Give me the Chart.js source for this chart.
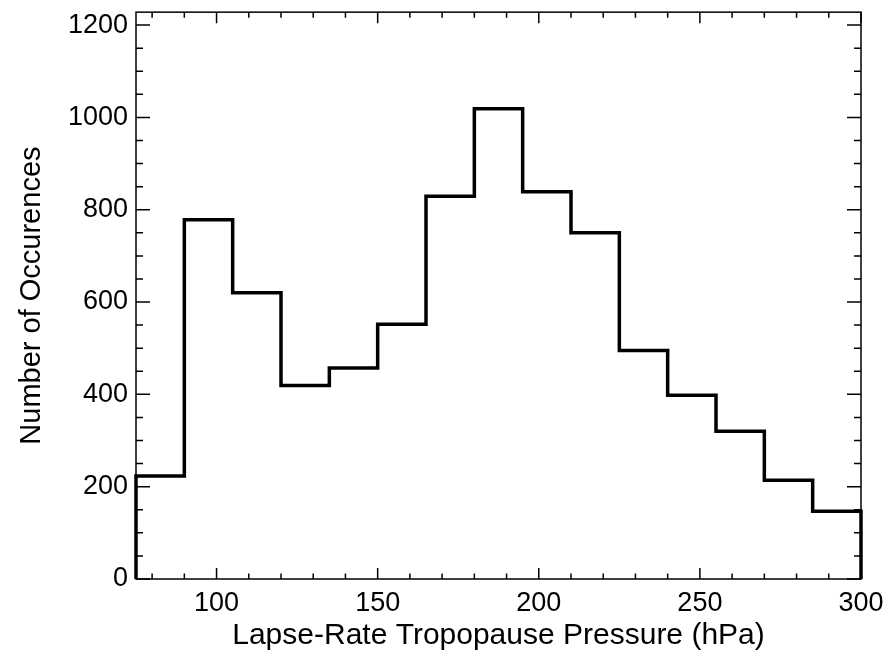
<!DOCTYPE html>
<html>
<head>
<meta charset="utf-8">
<script src="https://cdn.jsdelivr.net/npm/chart.js@4/dist/chart.umd.min.js"></script>
<style>
  html, body { margin: 0; padding: 0; background: #fff; }
  #wrap { width: 889px; height: 660px; }
</style>
</head>
<body>
<div id="wrap"><canvas id="chart" width="889" height="660"></canvas></div>
<script>
// histogram bins (hPa) and counts
const binEdges = [75, 90, 105, 120, 135, 150, 165, 180, 195, 210, 225, 240, 255, 270, 285, 300];
const counts = [223, 778, 620, 419, 457, 552, 829, 1019, 839, 750, 495, 398, 320, 214, 147];

const xTickValues = [100, 150, 200, 250, 300];
const yTickValues = [0, 200, 400, 600, 800, 1000, 1200];
const xMinorStep = 10;
const yMinorStep = 50;

const xTitle = 'Lapse-Rate Tropopause Pressure (hPa)';
const yTitle = 'Number of Occurences';

const fontFamily = '"Liberation Sans", Arial, Helvetica, sans-serif';

// outline of the histogram: up from 0, across each bin, back down to 0
const outline = [{ x: binEdges[0], y: 0 }];
counts.forEach((c, i) => {
  outline.push({ x: binEdges[i], y: c });
  outline.push({ x: binEdges[i + 1], y: c });
});
outline.push({ x: binEdges[binEdges.length - 1], y: 0 });

// frame + inward ticks on all four sides
const framePlugin = {
  id: 'frame',
  beforeDatasetsDraw(chart) {
    const { ctx, chartArea: a, scales } = chart;
    const xs = scales.x, ys = scales.y;
    ctx.save();
    ctx.strokeStyle = '#000';
    ctx.lineWidth = 1.5;
    ctx.strokeRect(a.left, a.top, a.right - a.left, a.bottom - a.top);

    ctx.beginPath();
    for (let v = Math.ceil(xs.min / xMinorStep) * xMinorStep; v <= xs.max; v += xMinorStep) {
      const px = xs.getPixelForValue(v);
      const len = xTickValues.includes(v) ? 11 : 5.5;
      ctx.moveTo(px, a.bottom); ctx.lineTo(px, a.bottom - len);
      ctx.moveTo(px, a.top); ctx.lineTo(px, a.top + len);
    }
    for (let v = 0; v <= ys.max; v += yMinorStep) {
      const py = ys.getPixelForValue(v);
      const len = yTickValues.includes(v) ? 14 : 7;
      ctx.moveTo(a.left, py); ctx.lineTo(a.left + len, py);
      ctx.moveTo(a.right, py); ctx.lineTo(a.right - len, py);
    }
    ctx.stroke();
    ctx.restore();
  }
};

new Chart('chart', {
  type: 'line',
  data: {
    datasets: [{
      data: outline,
      borderColor: '#000',
      borderWidth: 3.5,
      borderJoinStyle: 'miter',
      pointRadius: 0,
      tension: 0,
      fill: false,
      clip: false
    }]
  },
  options: {
    responsive: false,
    animation: false,
    layout: { padding: { left: 0, top: 0, right: 28, bottom: 0 } },
    plugins: { legend: { display: false }, tooltip: { enabled: false } },
    scales: {
      x: {
        type: 'linear',
        min: 75,
        max: 300,
        grid: { display: false },
        border: { display: false },
        afterBuildTicks: s => { s.ticks = xTickValues.map(v => ({ value: v })); },
        afterFit: s => { s.height = 81; },
        ticks: {
          color: '#000',
          padding: 0,
          maxRotation: 0,
          callback: v => String(v),
          font: { family: fontFamily, size: 27 }
        },
        title: {
          display: true,
          text: xTitle,
          color: '#000',
          padding: { top: 0, bottom: 6 },
          font: { family: fontFamily, size: 30 }
        }
      },
      y: {
        min: 0,
        max: 1228,
        grid: { display: false },
        border: { display: false },
        afterBuildTicks: s => { s.ticks = yTickValues.map(v => ({ value: v })); },
        afterFit: s => { s.width = 136; },
        ticks: {
          color: '#000',
          padding: 0,
          callback: v => String(v),
          font: { family: fontFamily, size: 27, lineHeight: 0.9 }
        },
        title: {
          display: true,
          text: yTitle,
          color: '#000',
          padding: { top: 15, bottom: 0 },
          font: { family: fontFamily, size: 29 }
        }
      }
    }
  },
  plugins: [framePlugin]
});
</script>
</body>
</html>
